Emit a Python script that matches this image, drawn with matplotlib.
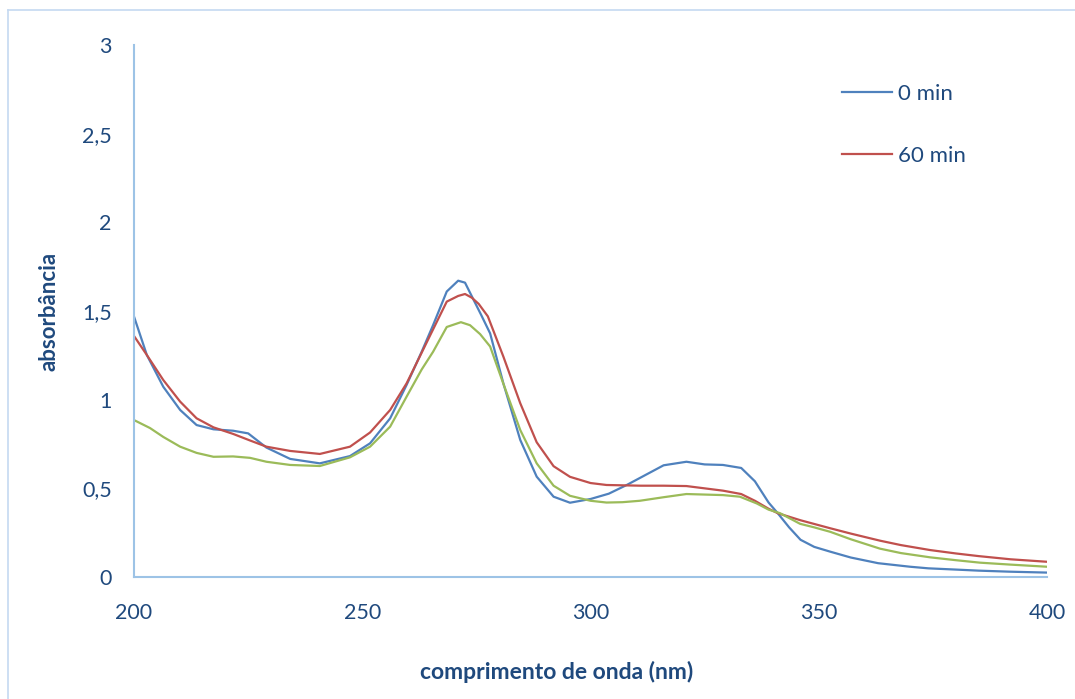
import matplotlib
matplotlib.use("Agg")
from matplotlib import pyplot as plt
from matplotlib.lines import Line2D
from matplotlib.ticker import FuncFormatter, MultipleLocator

plt.rcParams['font.family'] = ['Lato', 'DejaVu Sans']

# ---------------- dados ----------------
wl_0 = [200, 202.8, 206.4, 210.1, 213.7, 217.4, 221.7, 225, 229, 234.2, 240.7,
        247.3, 251.7, 256.1, 259.7, 263, 265.5, 268.5, 271, 272.5, 274.4, 276,
        278, 280.9, 284.6, 288.2, 291.9, 295.5, 300, 304, 308, 312, 316, 321,
        325, 329, 333, 336, 339, 341, 343.5, 346, 349, 352.5, 357, 363, 370,
        374, 380, 385, 392, 400]
abs_0 = [1.468, 1.252, 1.073, 0.942, 0.857, 0.833, 0.825, 0.81, 0.73, 0.666, 0.641,
         0.682, 0.754, 0.895, 1.083, 1.27, 1.42, 1.61, 1.671, 1.66, 1.562, 1.48,
         1.374, 1.092, 0.773, 0.566, 0.453, 0.419, 0.44, 0.47, 0.52, 0.575, 0.63,
         0.65, 0.635, 0.632, 0.615, 0.54, 0.42, 0.36, 0.28, 0.21, 0.17, 0.143,
         0.11, 0.078, 0.058, 0.049, 0.042, 0.036, 0.03, 0.025]

wl_60 = [200, 202.8, 206.4, 210.1, 213.7, 217.4, 221.7, 225.4, 229, 234.2, 240.7,
         247.3, 251.7, 256.1, 259.7, 261.2, 265, 268.5, 271, 272.5, 274, 275.5,
         277.5, 280.9, 284.6, 288.2, 291.9, 295.5, 300, 303.5, 311, 316, 321, 325,
         329, 333, 336, 339, 341, 346, 352.5, 357, 363.4, 368, 374.4, 380, 385,
         392, 400]
abs_60 = [1.359, 1.252, 1.111, 0.989, 0.895, 0.844, 0.807, 0.77, 0.735, 0.711,
          0.694, 0.735, 0.815, 0.942, 1.092, 1.17, 1.37, 1.553, 1.585, 1.596,
          1.575, 1.54, 1.47, 1.243, 0.98, 0.76, 0.625, 0.565, 0.53, 0.519, 0.515,
          0.515, 0.513, 0.50, 0.487, 0.468, 0.43, 0.385, 0.36, 0.32, 0.275, 0.245,
          0.205, 0.18, 0.152, 0.133, 0.118, 0.10, 0.086]

wl_x = [200, 203.5, 206.4, 210.1, 213.7, 217.4, 221.7, 225.4, 229, 234.2, 240.7,
        247.3, 251.7, 256.1, 259.7, 263, 265.5, 268.5, 271.6, 273.6, 275.8, 278,
        280.9, 284.6, 288.2, 291.9, 295.5, 300, 303.5, 307, 310.8, 316, 321, 325,
        329, 332.7, 336.4, 339, 341.5, 345.9, 349, 352.5, 357, 363.4, 368, 374.4,
        380, 385.3, 392, 400]
abs_x = [0.885, 0.84, 0.79, 0.735, 0.70, 0.678, 0.68, 0.672, 0.65, 0.632, 0.626,
         0.675, 0.735, 0.848, 1.017, 1.17, 1.27, 1.41, 1.437, 1.42, 1.37, 1.30,
         1.09, 0.829, 0.641, 0.515, 0.458, 0.43, 0.42, 0.422, 0.43, 0.45, 0.468,
         0.465, 0.462, 0.453, 0.415, 0.38, 0.36, 0.30, 0.28, 0.255, 0.213, 0.16,
         0.135, 0.111, 0.095, 0.081, 0.07, 0.058]

txt = '#1F497D'
eixo = '#9DC3E6'

fig = plt.figure(figsize=(10.75, 6.99), dpi=100)
ax = fig.add_axes([0.1247, 0.1745, 0.8493, 0.7611])

ax.plot(wl_0, abs_0, color='#4F81BD', lw=1.6, label='0 min')
ax.plot(wl_60, abs_60, color='#C0504D', lw=1.6, label='60 min')
ax.plot(wl_x, abs_x, color='#9BBB59', lw=1.6)

ax.set_xlim(200, 400)
ax.set_ylim(0, 3)
ax.xaxis.set_major_locator(MultipleLocator(50))
ax.yaxis.set_major_locator(MultipleLocator(0.5))
ax.yaxis.set_major_formatter(FuncFormatter(lambda v, p: ('%g' % v).replace('.', ',')))

for s in ['top', 'right']:
    ax.spines[s].set_visible(False)
for s in ['left', 'bottom']:
    ax.spines[s].set_color(eixo)
    ax.spines[s].set_linewidth(1.5)
ax.tick_params(length=0, labelsize=15.5, labelcolor=txt)
ax.tick_params(axis='y', pad=16)
ax.tick_params(axis='x', pad=19)

ax.set_xlabel('comprimento de onda (nm)', fontsize=16.5, fontweight='bold', color=txt)
ax.set_ylabel('absorbância', fontsize=16, fontweight='bold', color=txt)
ax.xaxis.set_label_coords(0.463, -0.157)
ax.yaxis.set_label_coords(-0.082, 0.5)

leg = ax.legend(loc='upper left', bbox_to_anchor=(0.754, 0.964), frameon=False,
                fontsize=16, handlelength=2.25, labelspacing=1.86, handletextpad=0.25)
for t in leg.get_texts():
    t.set_color(txt)

# moldura do gráfico (só topo e esquerda visíveis)
fig.add_artist(Line2D([0.0074, 1.0], [0.9857, 0.9857], transform=fig.transFigure,
                      color='#C5D9F1', lw=1.2))
fig.add_artist(Line2D([0.0074, 0.0074], [0.0, 0.9857], transform=fig.transFigure,
                      color='#C5D9F1', lw=1.2))

fig.savefig('out.png', dpi=100)
